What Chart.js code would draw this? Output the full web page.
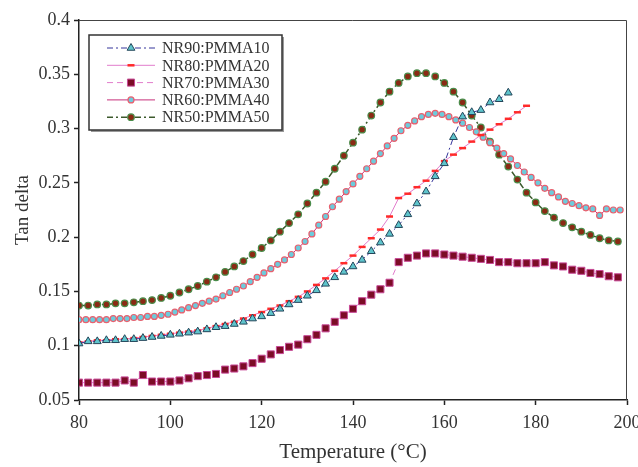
<!DOCTYPE html>
<html>
<head>
<title>Tan delta - NR/PMMA</title>
<script src="https://cdn.jsdelivr.net/npm/chart.js@4.4.0/dist/chart.umd.min.js"></script>
<style>
body { margin: 0; background: #fff; }
</style>
</head>
<body>
<canvas id="stage" width="638" height="467"></canvas>
<script>
// temperatures (°C) and tan delta readings for each blend
var tempNR90 = [80,82,84,86,88,90,92,94,96,98,100,102,104,106,108,110,112,114,116,118,120,122,124,126,128,130,132,134,136,138,140,142,144,146,148,150,152,154,156,158,160,162,164,166,168,170,172,174];
var tanNR90 = [.102,.104,.104,.105,.105,.106,.106,.107,.108,.109,.110,.111,.112,.113,.115,.117,.118,.120,.122,.125,.127,.130,.134,.138,.142,.146,.151,.157,.163,.168,.173,.179,.187,.195,.203,.211,.221,.231,.242,.256,.268,.292,.311,.315,.317,.324,.327,.333];

var tempNR80 = [80,82,84,86,88,90,92,94,96,98,100,102,104,106,108,110,112,114,116,118,120,122,124,126,128,130,132,134,136,138,140,142,144,146,148,150,152,154,156,158,160,162,164,166,168,170,172,174,176,178];
var tanNR80 = [.103,.104,.105,.105,.106,.106,.107,.108,.109,.110,.111,.112,.113,.114,.116,.118,.120,.122,.125,.128,.131,.134,.137,.141,.145,.150,.156,.162,.169,.176,.183,.191,.199,.207,.219,.236,.240,.246,.252,.261,.270,.276,.282,.288,.294,.299,.304,.309,.315,.321];

var tempNR70 = [80,82,84,86,88,90,92,94,96,98,100,102,104,106,108,110,112,114,116,118,120,122,124,126,128,130,132,134,136,138,140,142,144,146,148,150,152,154,156,158,160,162,164,166,168,170,172,174,176,178,180,182,184,186,188,190,192,194,196,198];
var tanNR70 = [.066,.066,.066,.066,.066,.068,.066,.073,.067,.067,.067,.068,.070,.072,.073,.074,.078,.079,.081,.084,.088,.092,.096,.099,.101,.106,.110,.116,.122,.128,.134,.141,.147,.152,.158,.177,.181,.183,.185,.185,.184,.183,.182,.181,.180,.179,.177,.177,.176,.176,.176,.177,.174,.173,.170,.169,.167,.166,.164,.163];

var tempNR60 = [80,81.5,83,84.5,86,87.5,89,90.5,92,93.5,95,96.5,98,99.5,101,102.5,104,105.5,107,108.5,110,111.5,113,114.5,116,117.5,119,120.5,122,123.5,125,126.5,128,129.5,131,132.5,134,135.5,137,138.5,140,141.5,143,144.5,146,147.5,149,150.5,152,153.5,155,156.5,158,159.5,161,162.5,164,165.5,167,168.5,170,171.5,173,174.5,176,177.5,179,180.5,182,183.5,185,186.5,188,189.5,191,192.5,194,195.5,197,198.5];
var tanNR60 = [.124,.124,.124,.124,.124,.125,.125,.125,.126,.126,.127,.127,.128,.129,.131,.133,.135,.137,.139,.141,.143,.146,.149,.152,.155,.159,.163,.167,.171,.175,.179,.184,.190,.196,.203,.211,.219,.228,.235,.242,.249,.256,.263,.270,.277,.284,.291,.298,.303,.307,.311,.313,.314,.313,.311,.308,.305,.301,.297,.292,.287,.282,.277,.272,.266,.260,.255,.250,.245,.241,.237,.233,.231,.229,.227,.226,.220,.226,.225,.225];

var tempNR50 = [80,82,84,86,88,90,92,94,96,98,100,102,104,106,108,110,112,114,116,118,120,122,124,126,128,130,132,134,136,138,140,142,144,146,148,150,152,154,156,158,160,162,164,166,168,170,172,174,176,178,180,182,184,186,188,190,192,194,196,198];
var tanNR50 = [.137,.137,.138,.138,.139,.139,.140,.141,.142,.144,.146,.149,.152,.155,.159,.163,.168,.173,.178,.184,.190,.197,.205,.213,.221,.231,.241,.251,.263,.275,.287,.299,.312,.324,.334,.342,.348,.351,.351,.348,.342,.334,.324,.312,.301,.288,.276,.265,.253,.241,.232,.224,.218,.213,.209,.205,.202,.199,.197,.196];

var xTicks = [80, 100, 120, 140, 160, 180, 200];
var yTicks = [0.05, 0.1, 0.15, 0.2, 0.25, 0.3, 0.35, 0.4];

function toPoints(xs, ys) {
    var p = [];
    for (var i = 0; i < xs.length; i++) p.push({x: xs[i], y: ys[i]});
    return p;
}

var serif = "'Liberation Serif', 'Times New Roman', serif";

var datasets = [
    {
        label: 'NR90:PMMA10', data: toPoints(tempNR90, tanNR90),
        borderColor: '#34349a', borderWidth: 1, borderDash: [6, 3, 2, 3],
        pointStyle: 'triangle', pointRadius: 4.5, pointBackgroundColor: '#5ec4cc',
        pointBorderColor: '#24465a', pointBorderWidth: 1
    },
    {
        label: 'NR80:PMMA20', data: toPoints(tempNR80, tanNR80),
        borderColor: '#e27ccc', borderWidth: 1,
        pointStyle: 'line', pointRadius: 3.5, pointBackgroundColor: '#ff2a2a',
        pointBorderColor: '#ff2a2a', pointBorderWidth: 2.5
    },
    {
        label: 'NR70:PMMA30', data: toPoints(tempNR70, tanNR70),
        borderColor: '#e27ccc', borderWidth: 1, borderDash: [6, 4],
        pointStyle: 'rect', pointRadius: 5, pointBackgroundColor: '#7c0c26',
        pointBorderColor: '#c84a98', pointBorderWidth: 1
    },
    {
        label: 'NR60:PMMA40', data: toPoints(tempNR60, tanNR60),
        borderColor: '#c8307a', borderWidth: 1,
        pointStyle: 'circle', pointRadius: 3, pointBackgroundColor: '#6ccbdc',
        pointBorderColor: '#e8606e', pointBorderWidth: 1.2
    },
    {
        label: 'NR50:PMMA50', data: toPoints(tempNR50, tanNR50),
        borderColor: '#3c5a2c', borderWidth: 1.5, borderDash: [6, 3, 2, 3],
        pointStyle: 'circle', pointRadius: 3.3, pointBackgroundColor: '#8a2a14',
        pointBorderColor: '#4a8c4a', pointBorderWidth: 1.2
    }
];

// plot frame and the boxed legend with line samples
var framePlugin = {
    id: 'frame',
    afterDraw: function (chart) {
        var a = chart.chartArea, ctx = chart.ctx;
        ctx.save();
        ctx.strokeStyle = '#444';
        ctx.lineWidth = 1;
        ctx.beginPath();
        ctx.moveTo(a.left, a.top + 0.5);
        ctx.lineTo(a.right - 0.5, a.top + 0.5);
        ctx.lineTo(a.right - 0.5, a.bottom);
        ctx.stroke();

        var bx = a.left + 10, by = a.top + 15, bw = 193, bh = 95;
        ctx.fillStyle = '#999';
        ctx.fillRect(bx + 2, by + 2, bw, bh);
        ctx.fillStyle = '#fff';
        ctx.fillRect(bx, by, bw, bh);
        ctx.strokeStyle = '#333';
        ctx.lineWidth = 1.5;
        ctx.strokeRect(bx, by, bw, bh);

        ctx.font = '16px ' + serif;
        ctx.textBaseline = 'middle';
        ctx.textAlign = 'left';
        chart.data.datasets.forEach(function (ds, i) {
            var y = by + 13 + i * 17.3;
            ctx.setLineDash(ds.borderDash || []);
            ctx.strokeStyle = ds.borderColor;
            ctx.lineWidth = ds.borderWidth;
            ctx.beginPath();
            ctx.moveTo(bx + 18, y);
            ctx.lineTo(bx + 66, y);
            ctx.stroke();
            ctx.setLineDash([]);
            ctx.fillStyle = ds.pointBackgroundColor;
            ctx.strokeStyle = ds.pointBorderColor;
            ctx.lineWidth = ds.pointBorderWidth;
            Chart.helpers.drawPoint(ctx, {pointStyle: ds.pointStyle, radius: ds.pointRadius, rotation: 0, borderWidth: ds.pointBorderWidth}, bx + 42, y);
            ctx.fillStyle = '#333';
            ctx.fillText(ds.label, bx + 73, y + 1);
        });
        ctx.restore();
    }
};

var chart = new Chart(document.getElementById('stage'), {
    type: 'line',
    data: {datasets: datasets},
    options: {
        responsive: false,
        animation: false,
        devicePixelRatio: 1,
        layout: {autoPadding: false, padding: {left: 0, top: 20, right: 11, bottom: 0}},
        elements: {line: {tension: 0}},
        plugins: {legend: {display: false}, tooltip: {enabled: false}},
        scales: {
            x: {
                type: 'linear', min: 80, max: 200,
                afterFit: function (s) { s.height = 67; s.paddingLeft = 0; s.paddingRight = 0; },
                afterBuildTicks: function (s) { s.ticks = xTicks.map(function (v) { return {value: v}; }); },
                ticks: {color: '#333', font: {family: serif, size: 18}, padding: 7, maxRotation: 0},
                grid: {drawOnChartArea: false, tickLength: 5, color: '#222', tickWidth: 1.5},
                border: {color: '#222', width: 1.5},
                title: {display: true, text: 'Temperature (°C)', color: '#333', font: {family: serif, size: 21}, padding: {top: 0, bottom: 2}}
            },
            y: {
                min: 0.05, max: 0.4,
                afterFit: function (s) { s.width = 79; s.paddingTop = 0; s.paddingBottom = 0; },
                afterBuildTicks: function (s) { s.ticks = yTicks.map(function (v) { return {value: v}; }); },
                ticks: {
                    color: '#333', font: {family: serif, size: 18}, padding: 4,
                    callback: function (v) { return String(Number(v.toFixed(2))); }
                },
                grid: {drawOnChartArea: false, tickLength: 5, color: '#222', tickWidth: 1.5},
                border: {color: '#222', width: 1.5},
                title: {display: true, text: 'Tan delta', color: '#333', font: {family: serif, size: 19}, padding: {top: 12, bottom: 0}}
            }
        }
    },
    plugins: [framePlugin]
});
</script>
</body>
</html>
